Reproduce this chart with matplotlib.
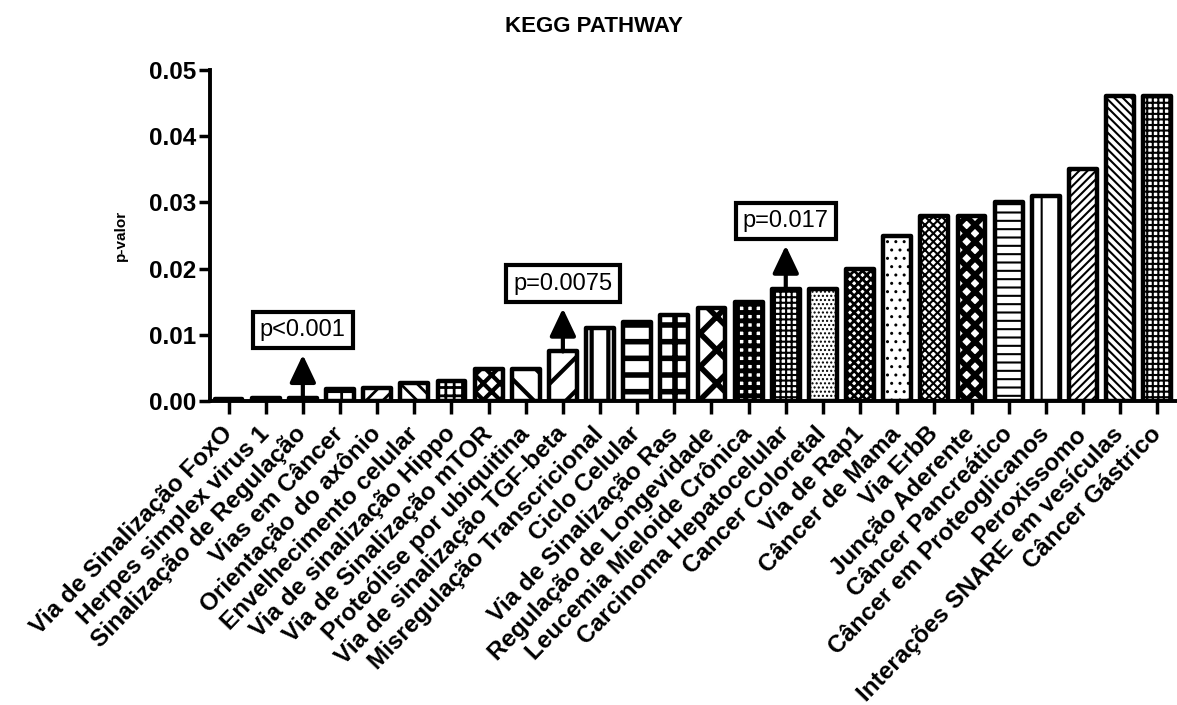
"""KEGG PATHWAY — p-valor por via enriquecida (barras com padrões)."""
import matplotlib
matplotlib.use("Agg")
import matplotlib.pyplot as plt

plt.rcParams["font.family"] = ["Liberation Sans", "DejaVu Sans"]
plt.rcParams["hatch.linewidth"] = 1.5

vias = [
    "Via de Sinalização FoxO",
    "Herpes simplex virus 1",
    "Sinalização de Regulação",
    "Vias em Câncer",
    "Orientação do axônio",
    "Envelhecimento celular",
    "Via de sinalização Hippo",
    "Via de Sinalização mTOR",
    "Proteólise por ubiquitina",
    "Via de sinalização TGF-beta",
    "Misregulação Transcricional",
    "Ciclo Celular",
    "Via de Sinalização Ras",
    "Regulação de Longevidade",
    "Leucemia Mieloide Crônica",
    "Carcinoma Hepatocelular",
    "Cancer Coloretal",
    "Via de Rap1",
    "Câncer de Mama",
    "Via ErbB",
    "Junção Aderente",
    "Câncer Pancreático",
    "Câncer em Proteoglicanos",
    "Peroxissomo",
    "Interações SNARE em vesículas",
    "Câncer Gástrico",
]
p_valor = [
    0.0003, 0.0004, 0.0005, 0.0018, 0.0020, 0.0027, 0.0030, 0.0048, 0.0049,
    0.0075, 0.011, 0.012, 0.013, 0.014, 0.015, 0.017, 0.017, 0.020, 0.025,
    0.028, 0.028, 0.030, 0.031, 0.035, 0.046, 0.046,
]

# destaques: índice da barra e texto da caixa
destaque_idx = [2, 9, 15]
destaque_txt = ["p<0.001", "p=0.0075", "p=0.017"]

# padrão de preenchimento e espessura da hachura de cada barra
padroes = [
    ("", 1), ("", 1), ("", 1), ("+", 2), ("//", 2), ("\\\\", 2), ("++", 2),
    ("xx", 3), ("\\", 3), ("/", 3), ("|", 3), ("-", 4), ("+", 4), ("x", 4),
    ("++", 3.5), ("+++", 1.5), ("....", 1), ("xxxx", 2), ("..", 1),
    ("xxxx", 1.5), ("xx", 4), ("--", 1.5), ("|", 1.5), ("////", 1.5),
    ("\\\\\\\\", 1.5), ("+++", 1.5),
]

fig = plt.figure(figsize=(11.77, 7.05), dpi=100)
ax = fig.add_axes([0.1784, 0.431, 0.8206, 0.4697])

x = list(range(len(vias)))
bars = ax.bar(x, p_valor, width=0.75, color="white", edgecolor="black",
              linewidth=3.2, zorder=2)
for b, (h, lw) in zip(bars, padroes):
    b.set_hatch(h)
    b.set_joinstyle("round")
    if hasattr(b, "set_hatch_linewidth"):
        b.set_hatch_linewidth(lw)

# setas e caixas com o p-valor
seta = 0.0065
for i, txt in zip(destaque_idx, destaque_txt):
    v = p_valor[i]
    ax.annotate("", xy=(i, v + seta), xytext=(i, v),
                arrowprops=dict(arrowstyle="-|>,head_length=0.8,head_width=0.38",
                                mutation_scale=21, lw=3, color="black",
                                shrinkA=0, shrinkB=0), zorder=3)
    ax.annotate(txt, xy=(i, v + seta), xytext=(0, 10), textcoords="offset points",
                ha="center", va="bottom", fontsize=17,
                bbox=dict(boxstyle="square,pad=0.3", fc="white", ec="black", lw=3),
                zorder=4)

ax.set_xlim(-0.5, len(vias) - 0.5)
ax.set_ylim(0, 0.05)
ax.set_yticks([0, 0.01, 0.02, 0.03, 0.04, 0.05])
ax.set_yticklabels([f"{t:.2f}" for t in ax.get_yticks()], fontsize=17.5,
                   fontweight="bold")
ax.set_xticks(x)
ax.set_xticklabels(vias, rotation=46, ha="right", va="center",
                   rotation_mode="anchor", fontsize=17.5, fontweight="bold")
ax.tick_params(axis="x", length=9, width=2.5, pad=12)
ax.tick_params(axis="y", length=8, width=2.5, pad=2)

for s in ("top", "right"):
    ax.spines[s].set_visible(False)
for s in ("left", "bottom"):
    ax.spines[s].set_linewidth(2.8)

ax.set_ylabel("p-valor", fontsize=11, fontweight="bold")
ax.yaxis.set_label_coords(-0.085, 0.5)

fig.text(0.505, 0.962, "KEGG PATHWAY", ha="center", va="center",
         fontsize=16, fontweight="bold")

fig.savefig("out.png", dpi=100)
